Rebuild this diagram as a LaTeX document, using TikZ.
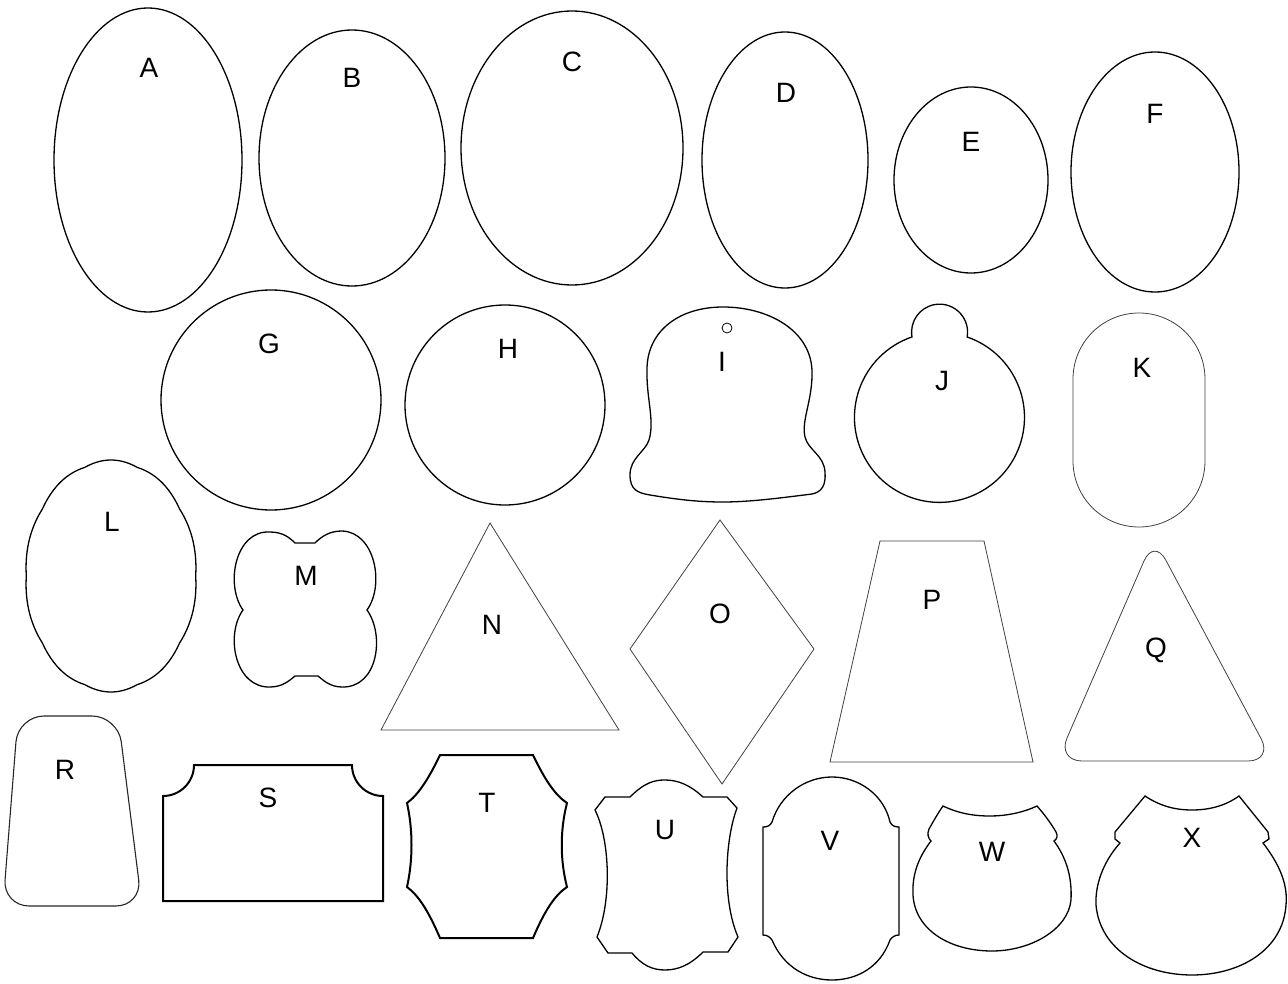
\documentclass[tikz,border=0pt]{standalone}
\usepackage{fontspec}
\setmainfont{Liberation Sans}
\begin{document}
\begin{tikzpicture}[
  x=1pt, y=-1pt,
  outline/.style={draw, line width=1.3pt},
  thinline/.style={draw, line width=0.8pt, black!75},
  boldline/.style={draw, line width=2pt},
  lbl/.style={inner sep=0pt, font=\fontsize{28}{30}\selectfont}
]
  \useasboundingbox (0,0) rectangle (1288,984);

  \draw[outline] (148,160) ellipse[x radius=94, y radius=152];
  \draw[outline] (352,158) ellipse[x radius=93, y radius=128];
  \draw[outline] (572,148) ellipse[x radius=111, y radius=137];
  \draw[outline] (785,160) ellipse[x radius=83, y radius=128];
  \draw[outline] (971,180) ellipse[x radius=77, y radius=93];
  \draw[outline] (1155,172) ellipse[x radius=84, y radius=120];

  \draw[outline] (271,400) circle[radius=110];
  \draw[outline] (505,405) circle[radius=100];

  \draw[outline] (723,307) .. controls (680,307) and (648,330) .. (647,368) .. controls (646,398) and (655,420) .. (649,440)
    .. controls (645,452) and (630,458) .. (630,475) .. controls (630,490) and (638,493) .. (650,495)
    .. controls (680,500) and (700,502) .. (723,502) .. controls (750,502) and (780,498) .. (812,494)
    .. controls (822,492) and (826,485) .. (825,472) .. controls (824,455) and (808,450) .. (805,437)
    .. controls (801,420) and (813,400) .. (812,370) .. controls (810,330) and (768,307) .. (723,307) -- cycle;
  \draw[line width=0.8pt] (727,328) circle[radius=5];

  \draw[outline] (912,337) arc[start angle=170, end angle=370, radius=28] arc[start angle=-71, end angle=251, radius=85] -- cycle;

  \draw[thinline, rounded corners=66pt] (1073,313) rectangle (1205,527);

  \draw[outline] plot[domain=0:357, samples=120, smooth cycle] ({111+86*cos(\x)*(0.985+0.015*abs(sin(5*\x)))}, {576+116*sin(\x)*(0.985+0.015*abs(sin(5*\x)))});

  \draw[outline] (243,610) .. controls (225,585) and (235,530) .. (270,532) .. controls (283,532) and (290,538) .. (295,543) -- (315,543)
    .. controls (322,536) and (330,531) .. (342,531) .. controls (375,532) and (385,585) .. (367,610)
    .. controls (385,635) and (378,688) .. (342,687) .. controls (330,687) and (323,680) .. (318,676) -- (295,676)
    .. controls (289,681) and (282,687) .. (270,687) .. controls (235,688) and (225,635) .. (243,610) -- cycle;

  \draw[thinline] (490,523) -- (619,730) -- (381,730) -- cycle;
  \draw[thinline] (720,520) -- (814,649) -- (722,784) -- (630,649) -- cycle;
  \draw[thinline] (880,541) -- (984,541) -- (1033,762) -- (830,762) -- cycle;
  \draw[thinline, rounded corners=25pt] (1154,538) -- (1273,761) -- (1057,761) -- cycle;

  \draw[line width=1.1pt, black!85, rounded corners=26pt] (18,716) -- (118,716) -- (142,906) -- (3,906) -- cycle;

  \draw[boldline] (163,901) -- (163,796) arc[start angle=90, end angle=0, radius=31] -- (352,765) arc[start angle=180, end angle=90, radius=31] -- (383,901) -- cycle;

  \draw[boldline] (440,755) -- (533,755) .. controls (545,780) and (555,795) .. (567,803) .. controls (560,830) and (560,860) .. (567,887)
    .. controls (555,895) and (545,910) .. (533,938) -- (440,938) .. controls (428,910) and (418,895) .. (407,887)
    .. controls (413,860) and (413,830) .. (407,803) .. controls (418,795) and (428,780) .. (440,755) -- cycle;

  \draw[outline] (630,797) .. controls (645,782) and (655,780) .. (665,780) .. controls (678,780) and (690,785) .. (703,797) -- (727,797) -- (737,808)
    .. controls (725,840) and (722,900) .. (738,937) -- (728,952) -- (703,952) .. controls (690,965) and (678,970) .. (665,970)
    .. controls (652,970) and (642,965) .. (632,953) -- (608,953) -- (597,937) .. controls (612,900) and (610,840) .. (595,810) -- (605,797) -- cycle;

  \draw[outline] (772,822) .. controls (780,795) and (805,777) .. (832,777) .. controls (859,777) and (884,795) .. (890,822)
    .. controls (892,826) and (895,827) .. (899,827) -- (899,935) .. controls (895,935) and (892,937) .. (890,940)
    .. controls (880,968) and (856,980) .. (832,980) .. controls (808,980) and (784,968) .. (772,940)
    .. controls (770,937) and (767,935) .. (763,935) -- (763,827) .. controls (767,827) and (770,826) .. (772,822) -- cycle;

  \draw[outline] (943,806) .. controls (960,814) and (975,816) .. (990,816) .. controls (1005,816) and (1022,813) .. (1037,806)
    .. controls (1045,815) and (1052,825) .. (1056,832) .. controls (1058,836) and (1057,839) .. (1054,841)
    .. controls (1068,860) and (1072,880) .. (1071,900) .. controls (1068,930) and (1030,951) .. (992,951)
    .. controls (950,951) and (915,930) .. (913,895) .. controls (912,875) and (918,858) .. (931,841)
    .. controls (928,838) and (927,834) .. (929,829) .. controls (933,822) and (938,813) .. (943,806) -- cycle;

  \draw[outline] (1145,796) .. controls (1160,806) and (1175,810) .. (1192,810) .. controls (1209,810) and (1225,806) .. (1239,796)
    -- (1268,832) -- (1269,839) -- (1263,843) .. controls (1280,865) and (1288,885) .. (1286,905)
    .. controls (1283,950) and (1240,975) .. (1192,975) .. controls (1144,975) and (1100,950) .. (1096,905)
    .. controls (1095,885) and (1103,862) .. (1120,843) -- (1115,839) -- (1115,832) -- cycle;

  \node[lbl] (lA) at (149,68)  {A};
  \node[lbl] (lB) at (352,78)  {B};
  \node[lbl] (lC) at (572,62)  {C};
  \node[lbl] (lD) at (786,93)  {D};
  \node[lbl] (lE) at (971,142) {E};
  \node[lbl] (lF) at (1155,114) {F};
  \node[lbl] (lG) at (269,344) {G};
  \node[lbl] (lH) at (508,349) {H};
  \node[lbl] (lI) at (722,362) {I};
  \node[lbl] (lJ) at (942,381) {J};
  \node[lbl] (lK) at (1142,368) {K};
  \node[lbl] (lL) at (112,522) {L};
  \node[lbl] (lM) at (306,576) {M};
  \node[lbl] (lN) at (492,625) {N};
  \node[lbl] (lO) at (720,614) {O};
  \node[lbl] (lP) at (932,600) {P};
  \node[lbl] (lQ) at (1156,650) {Q};
  \node[lbl] (lR) at (65,770)  {R};
  \node[lbl] (lS) at (268,798) {S};
  \node[lbl] (lT) at (487,803) {T};
  \node[lbl] (lU) at (665,830) {U};
  \node[lbl] (lV) at (830,841) {V};
  \node[lbl] (lW) at (992,852) {W};
  \node[lbl] (lX) at (1192,838) {X};
\end{tikzpicture}
\end{document}
